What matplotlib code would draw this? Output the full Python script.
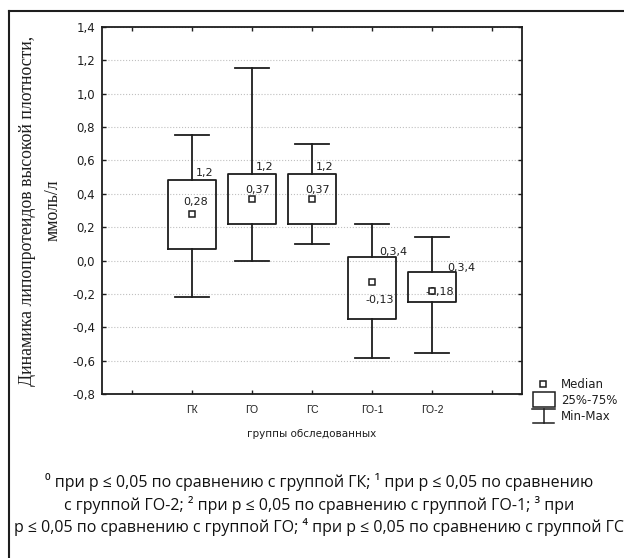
import matplotlib
matplotlib.use('Agg')
import matplotlib.pyplot as plt
from matplotlib.lines import Line2D
from matplotlib.patches import Rectangle

# data
groups = ['ГК', 'ГО', 'ГС', 'ГО-1', 'ГО-2']
medians = [0.28, 0.37, 0.37, -0.13, -0.18]
q1 = [0.07, 0.22, 0.22, -0.35, -0.25]
q3 = [0.48, 0.52, 0.52, 0.02, -0.07]
mins = [-0.22, 0.00, 0.10, -0.58, -0.55]
maxs = [0.75, 1.15, 0.70, 0.22, 0.14]
marks = ['1,2', '1,2', '1,2', '0,3,4', '0,3,4']
yticks = [-0.8, -0.6, -0.4, -0.2, 0.0, 0.2, 0.4, 0.6, 0.8, 1.0, 1.2, 1.4]

W, H = 624, 558
ink = '#1e1e1e'
sans = ['Liberation Sans', 'DejaVu Sans']
wide = ['DejaVu Sans']


def px(x, y):
    # pixel position (from top-left) -> figure fraction
    return x / W, 1 - y / H


fig = plt.figure(figsize=(W / 100, H / 100), dpi=100)
ax = fig.add_axes([102 / W, 1 - 394.3 / H, 420 / W, (394.3 - 26.7) / H])

pos = list(range(1, len(groups) + 1))
stats = []
for m, a, b, lo, hi in zip(medians, q1, q3, mins, maxs):
    stats.append({'med': m, 'q1': a, 'q3': b, 'whislo': lo, 'whishi': hi, 'fliers': []})

lp = dict(color=ink, linewidth=1.3)
ax.bxp(stats, positions=pos, widths=0.8, capwidths=0.58, showfliers=False,
       boxprops=lp, whiskerprops=lp, capprops=lp,
       medianprops=dict(linewidth=0))
ax.plot(pos, medians, 's', ms=4.2, mfc='white', mec=ink, mew=1.1, zorder=5)

# significance marks near box tops
mark_dx = [4, 4, 4, 7, 15]
mark_dy = [7.5, 7, 7, 5.6, 4.7]
for p, t, s, dx, dy in zip(pos, q3, marks, mark_dx, mark_dy):
    ax.annotate(s, (p, t), xytext=(dx, dy), textcoords='offset pixels',
                ha='left', va='center', fontsize=8, family=wide, color=ink)

# median value labels
med_dx = [4, 6, 6, 8, 8]
med_dy = [11.6, 9, 9, -18, -1]
for p, m, dx, dy in zip(pos, medians, med_dx, med_dy):
    ax.annotate(f'{m:.2f}'.replace('.', ','), (p, m), xytext=(dx, dy),
                textcoords='offset pixels', ha='center', va='center',
                fontsize=8, family=wide, color=ink)

ax.set_xlim(-0.5, 6.5)
ax.set_ylim(-0.8, 1.4)
ax.set_xticks(range(0, 7))
ax.set_xticklabels([''] + groups + [''])
ax.set_yticks(yticks)
ax.set_yticklabels([f'{v:.1f}'.replace('.', ',') for v in yticks])
ax.tick_params(direction='in', length=3, width=1, color=ink,
               top=True, right=True, labelcolor=ink)
ax.tick_params(axis='y', pad=5, labelsize=8.5)
ax.tick_params(axis='x', pad=8, labelsize=7.5)
for lab in ax.get_xticklabels():
    lab.set_family(sans)
for lab in ax.get_yticklabels():
    lab.set_family(wide)
for s in ax.spines.values():
    s.set_color(ink)
    s.set_linewidth(1.3)
ax.yaxis.grid(True, linestyle=':', color='#c0c0c0', linewidth=0.8)
ax.set_axisbelow(True)
ax.set_xlabel('группы обследованных', fontsize=7.5, family=wide, color=ink,
              labelpad=10)

# y label, two lines in a serif face
fig.text(*px(28, 211), 'Динамика липопротеидов высокой плотности,', rotation=90,
         ha='center', va='center', fontsize=12.8, family='Liberation Serif', color=ink)
fig.text(*px(53, 210), 'ммоль/л', rotation=90, ha='center', va='center',
         fontsize=12.8, family='Liberation Serif', color=ink)

# legend drawn by hand
fig.add_artist(Line2D([px(543, 0)[0]], [px(0, 384)[1]], marker='s', ms=4.2,
                      mfc='white', mec=ink, mew=1.1, linestyle='none'))
fig.add_artist(Rectangle(px(533, 407), 22 / W, 15 / H, fill=False, ec=ink, lw=1.1,
                         transform=fig.transFigure))
for (x0, y0), (x1, y1) in [((532, 409), (555, 409)), ((543.5, 409), (543.5, 423)),
                           ((533, 423), (554, 423))]:
    a, b = px(x0, y0)
    c, d = px(x1, y1)
    fig.add_artist(Line2D([a, c], [b, d], color=ink, lw=1.1))
for y, t in [(384, 'Median'), (400, '25%-75%'), (417, 'Min-Max')]:
    fig.text(*px(561, y), t, ha='left', va='center', fontsize=8.5, family=wide,
             color=ink)

# outer frame (right and bottom edges fall outside the picture)
fig.add_artist(Line2D([px(9, 0)[0]] * 2, [px(0, 11)[1], 0], color=ink, lw=1.5))
fig.add_artist(Line2D([px(9, 0)[0], 1], [px(0, 11)[1]] * 2, color=ink, lw=1.5))

# footnote
note = ['⁰ при р ≤ 0,05 по сравнению с группой ГК; ¹ при р ≤ 0,05 по сравнению',
        'с группой ГО-2; ² при р ≤ 0,05 по сравнению с группой ГО-1; ³ при',
        'р ≤ 0,05 по сравнению с группой ГО; ⁴ при р ≤ 0,05 по сравнению с группой ГС']
for y, t in zip([482, 505, 527], note):
    fig.text(*px(319, y), t, ha='center', va='center', fontsize=11.5,
             family=['Open Sans', 'DejaVu Sans'], color='#111111')

fig.savefig('out.png', dpi=100)
